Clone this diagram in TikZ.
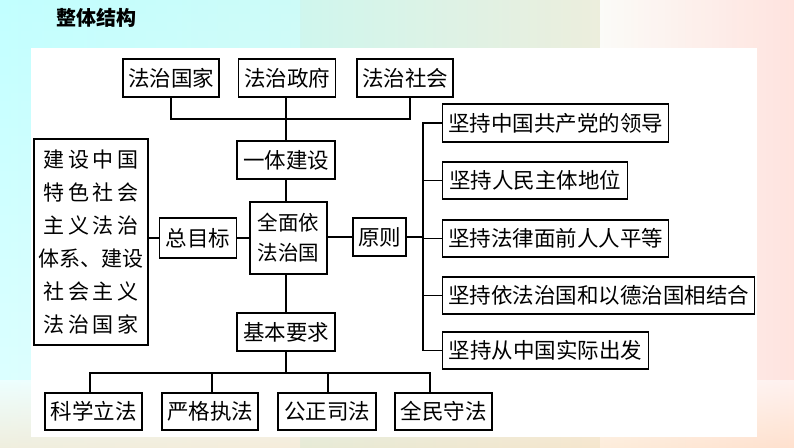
\documentclass[tikz,border=0pt]{standalone}
\usepackage{fontspec}
\setmainfont{Noto Sans CJK SC}
\newfontfamily\cjkb{Noto Sans CJK SC Black}
\begin{document}
\begin{tikzpicture}[x=1pt,y=-1pt,
  bx/.style={draw=black,line width=1.2pt,fill=white,inner sep=0pt,font=\fontsize{21.5}{24}\selectfont,align=center},
  ln/.style={line width=1.1pt}]
\useasboundingbox (0,0) rectangle (794,447);
\shade[left color=cyan!30,right color=orange!18] (0,0) rectangle (794,447);
\shade[top color=cyan!20,bottom color=white,opacity=0.6] (0,0) rectangle (300,447);
\shade[left color=white,right color=pink!45,opacity=0.8] (600,0) rectangle (794,447);
\shade[top color=white,bottom color=orange!25,opacity=0.5] (0,380) rectangle (794,447);
\fill[white] (31,48) rectangle (757,437);
\node[anchor=west,font=\cjkb\fontsize{20}{22}\selectfont] (title) at (53,18) {整体结构};
% top
\node[bx,minimum width=96,minimum height=38] (a1) at (171,78) {法治国家};
\node[bx,minimum width=97,minimum height=38] (a2) at (287,78) {法治政府};
\node[bx,minimum width=96,minimum height=38] (a3) at (405,78) {法治社会};
\node[bx,minimum width=98,minimum height=38] (yt) at (286,160) {一体建设};
\node[bx,minimum width=77,minimum height=72,font=\fontsize{20.5}{30}\selectfont] (qm) at (288.5,238) {全面依\\法治国};
\node[bx,minimum width=77,minimum height=40] (zm) at (198,238) {总目标};
\node[bx,minimum width=114,minimum height=206,font=\fontsize{21}{33}\selectfont] (lb) at (91,242) {建\,设\,中\,国\\特\,色\,社\,会\\主\,义\,法\,治\\体系、建设\\社\,会\,主\,义\\法\,治\,国\,家};
\node[bx,minimum width=53,minimum height=38] (yz) at (379.5,237) {原则};
\node[bx,minimum width=98,minimum height=38] (jb) at (286,332) {基本要求};
% right
\node[bx,anchor=west,minimum width=226,minimum height=38] (r1) at (442,123) {坚持中国共产党的领导};
\node[bx,anchor=west,minimum width=185,minimum height=37] (r2) at (442,180.5) {坚持人民主体地位};
\node[bx,anchor=west,minimum width=226,minimum height=37] (r3) at (442,238.5) {坚持法律面前人人平等};
\node[bx,anchor=west,minimum width=312,minimum height=37] (r4) at (442,295.5) {坚持依法治国和以德治国相结合};
\node[bx,anchor=west,minimum width=206,minimum height=37] (r5) at (442,350.5) {坚持从中国实际出发};
% bottom
\node[bx,minimum width=97,minimum height=37] (b1) at (93.5,411.5) {科学立法};
\node[bx,minimum width=96,minimum height=37] (b2) at (210,411.5) {严格执法};
\node[bx,minimum width=98,minimum height=37] (b3) at (327,411.5) {公正司法};
\node[bx,minimum width=97,minimum height=37] (b4) at (443.5,411.5) {全民守法};
% connectors
\coordinate (tl) at (171,119);
\coordinate (tr) at (410,119);
\coordinate (vx) at (286,0);
\draw[ln] (a1.south) -- (tl) -- (tr) -- (tr|-a3.south);
\draw[ln] (vx|-a2.south) -- (vx|-yt.north);
\draw[ln] (vx|-yt.south) -- (vx|-qm.north);
\draw[ln] (lb.east|-zm.west) -- (zm.west);
\draw[ln] (zm.east) -- (qm.west);
\draw[ln] (qm.east|-yz.west) -- (yz.west);
\draw[ln] (vx|-qm.south) -- (vx|-jb.north);
\coordinate (bt) at (423,120);
\coordinate (bb) at (423,350.5);
\draw[ln] (yz.east) -- (bt|-yz.east);
\draw[ln] (r1.west) -- (bt|-r1.west) -- (bb) -- (r5.west);
\foreach \r in {r2,r3,r4} \draw[ln] (bt|-\r.west) -- (\r.west);
\coordinate (hl) at (90,373);
\coordinate (hr) at (430,373);
\draw[ln] (jb.south) -- (jb.south|-hl);
\draw[ln] (hl|-b1.north) -- (hl) -- (hr) -- (hr|-b4.north);
\draw[ln] (b2.north) ++(2,0) -- ++(0,-20.5);
\draw[ln] (b3.north) ++(1,0) -- ++(0,-20.5);
\end{tikzpicture}
\end{document}
